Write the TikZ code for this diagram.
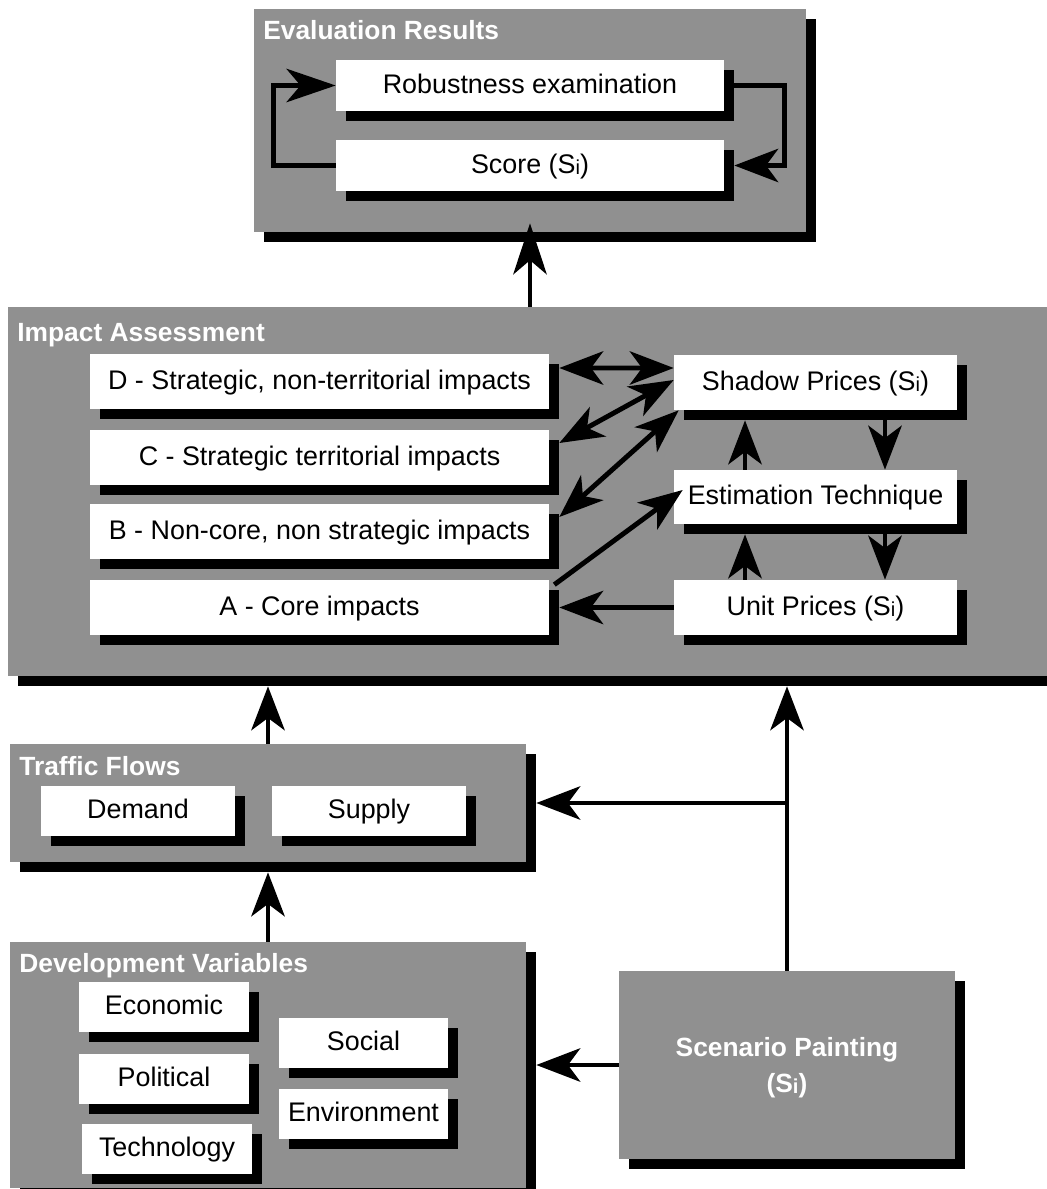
\documentclass[tikz,border=0pt]{standalone}
\usepackage{fontspec}
\setmainfont{Liberation Sans}
\usetikzlibrary{arrows.meta,shadows}

\definecolor{panelgray}{RGB}{144,144,144}
\newcommand{\Si}{S\raisebox{-0.5pt}{\fontsize{11.5}{11.5}\selectfont i}}

\tikzstyle{panel} = [fill=panelgray, inner sep=0pt, drop shadow={shadow xshift=.2cm, shadow yshift=-.2cm, fill=black, opacity=1}]
\tikzstyle{item} = [fill=white, inner sep=0pt, text height=11pt, text depth=2pt, font=\fontsize{15.3}{18}\selectfont, drop shadow={shadow xshift=.2cm, shadow yshift=-.2cm, fill=black, opacity=1}]
\tikzstyle{title} = [anchor=base west, inner sep=0pt, text=white, font=\fontsize{15}{18}\selectfont\bfseries]
\tikzstyle{flow} = [draw, line width=2.8pt, ->]
\tikzstyle{both} = [draw, line width=2.8pt, <->]

\begin{document}
\begin{tikzpicture}[x=0.02cm, y=-0.02cm, >={Stealth[length=25pt,width=19pt,inset=7pt]}]
\useasboundingbox (0,0) rectangle (1046,1189);

%panels
\node[panel, minimum width=11.04cm, minimum height=4.46cm] (evalp) at (530,120.5) {};
\node[panel, minimum width=20.96cm, minimum height=7.38cm] (impp) at (532,491.5) {};
\node[panel, minimum width=10.32cm, minimum height=2.36cm] (trafp) at (268,803) {};
\node[panel, minimum width=10.32cm, minimum height=4.92cm] (devp) at (268,1065) {};
\node[panel, minimum width=6.72cm, minimum height=3.76cm, text=white, align=center, text depth=0pt,
      font=\fontsize{15}{20}\selectfont\bfseries] (scen) at (787,1065) {Scenario Painting\\(\Si)};

\node[title] (evalt) at (263,40) {Evaluation Results};
\node[title] (impt) at (17,341) {Impact Assessment};
\node[title] (traft) at (19,775) {Traffic Flows};
\node[title] (devt) at (19,972) {Development Variables};

%evaluation results
\node[item, minimum width=7.76cm, minimum height=1.02cm] (rob) at (530,85.5) {Robustness examination};
\node[item, minimum width=7.76cm, minimum height=1.02cm] (score) at (530,165.5) {Score (\Si)};

%impact assessment
\node[item, minimum width=9.18cm, minimum height=1.1cm] (dimp) at (319.5,381.5) {D - Strategic, non-territorial impacts};
\node[item, minimum width=9.18cm, minimum height=1.1cm] (cimp) at (319.5,457.5) {C - Strategic territorial impacts};
\node[item, minimum width=9.18cm, minimum height=1.1cm] (bimp) at (319.5,531.5) {B - Non-core, non strategic impacts};
\node[item, minimum width=9.18cm, minimum height=1.1cm] (aimp) at (319.5,607.5) {A - Core impacts};
\node[item, minimum width=5.66cm, minimum height=1.1cm] (shadowp) at (815.5,382.5) {Shadow Prices (\Si)};
\node[item, minimum width=5.66cm, minimum height=1.08cm] (estim) at (815.5,497) {Estimation Technique};
\node[item, minimum width=5.66cm, minimum height=1.1cm] (unitp) at (815.5,607.5) {Unit Prices (\Si)};

%traffic flows
\node[item, minimum width=3.88cm, minimum height=1cm] (demand) at (138,811) {Demand};
\node[item, minimum width=3.88cm, minimum height=1cm] (supply) at (369,811) {Supply};

%development variables
\node[item, minimum width=3.4cm, minimum height=1cm] (econ) at (164,1007) {Economic};
\node[item, minimum width=3.4cm, minimum height=1cm] (polit) at (164,1078.5) {Political};
\node[item, minimum width=3.4cm, minimum height=1cm] (techn) at (167,1148.5) {Technology};
\node[item, minimum width=3.38cm, minimum height=1cm] (social) at (363.5,1043) {Social};
\node[item, minimum width=3.38cm, minimum height=1cm] (envir) at (363.5,1114) {Environment};

%shadow edges
\coordinate (impbot) at ([yshift=-.2cm]impp.south);
\coordinate (trafbot) at ([yshift=-.2cm]trafp.south);
\coordinate (tee) at (scen.north |- trafp.east);

%loop
\draw[flow, >={Stealth[length=28pt,width=19pt,inset=8pt]}] (score.west) -- ++(-62,0) |- (rob.west);
\draw[flow] ([xshift=.2cm]rob.east) -- ++(50,0) |- ([xshift=.2cm]score.east);
\draw[flow, >={Stealth[length=29pt,width=19pt,inset=8pt]}] (evalp.south |- impp.north) -- ([yshift=.18cm]evalp.south);

%impacts
\path[both] ([xshift=.2cm,yshift=.27cm]dimp.east) -- ([yshift=.29cm]shadowp.west);
\path[both] ([xshift=.2cm,yshift=.29cm]cimp.east) -- ([yshift=.05cm]shadowp.west);
\path[both] ([xshift=.2cm,yshift=.29cm]bimp.east) -- ([xshift=.1cm]shadowp.south west);
\path[flow] ([xshift=.1cm,yshift=-.1cm]aimp.north east) -- ([xshift=.18cm,yshift=.14cm]estim.west);
\path[flow] (unitp.west) -- ([xshift=.2cm]aimp.east);

%prices
\path[flow] ([xshift=-1.41cm]estim.north) -- ([xshift=-1.41cm,yshift=-.2cm]shadowp.south);
\path[flow] ([xshift=1.39cm,yshift=-.2cm]shadowp.south) -- ([xshift=1.39cm]estim.north);
\path[flow] ([xshift=-1.41cm]unitp.north) -- ([xshift=-1.41cm,yshift=-.2cm]estim.south);
\path[flow] ([xshift=1.39cm,yshift=-.2cm]estim.south) -- ([xshift=1.39cm]unitp.north);

%inputs
\path[flow] (trafp.north) -- (trafp.north |- impbot);
\path[flow] (devp.north) -- (devp.north |- trafbot);
\path[flow] (scen.north) -- (scen.north |- impbot);
\path[flow] (tee) -- ([xshift=.2cm]trafp.east);
\path[flow] (scen.west) -- ([xshift=.2cm]devp.east);
\end{tikzpicture}
\end{document}
